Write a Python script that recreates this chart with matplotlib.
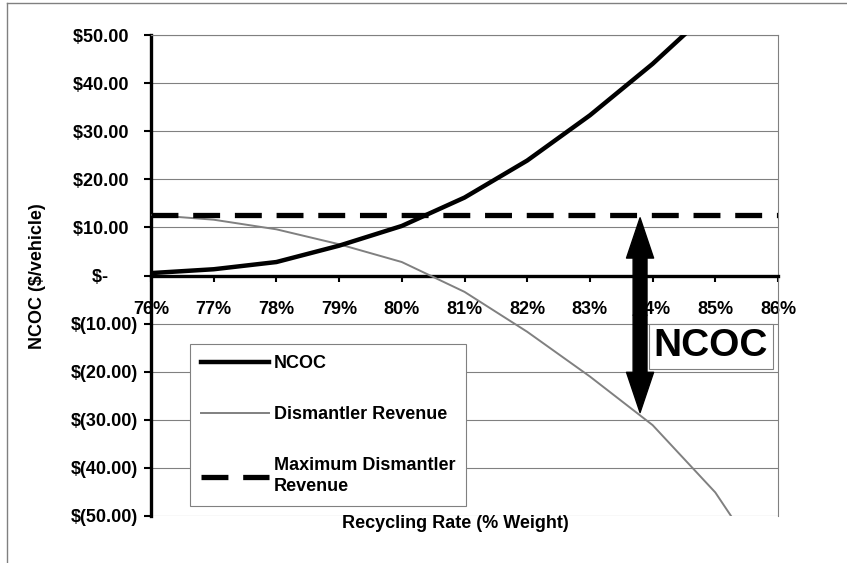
import numpy as np
import matplotlib
matplotlib.use('Agg')
import matplotlib.pyplot as plt
from matplotlib.lines import Line2D

plt.rcParams['font.family'] = ['Liberation Sans', 'DejaVu Sans']
plt.rcParams['font.weight'] = 'bold'
plt.rcParams['font.size'] = 13

#Data
rate = [76, 77, 78, 79, 80, 81, 82, 83, 84, 85, 86] #% weight
ncoc = [0.5, 1.3, 2.8, 6.2, 10.3, 16.2, 23.9, 33.3, 44.0, 56.0, 69.0] #$/vehicle
revenue = [12.6, 11.6, 9.6, 6.5, 2.8, -3.4, -11.7, -21.0, -31.1, -45.1, -64.6] #$/vehicle
max_revenue = 12.6 #$/vehicle
arrow_x = 83.8
arrow_top = 12.0
arrow_bottom = -28.5
yticks = [50, 40, 30, 20, 10, 0, -10, -20, -30, -40, -50]
ytick_labels = ['$50.00  ', '$40.00  ', '$30.00  ', '$20.00  ', '$10.00  ', '$-      ',
                '$(10.00)', '$(20.00)', '$(30.00)', '$(40.00)', '$(50.00)']

fig = plt.figure(figsize=(8.47, 5.63), dpi=100)
ax = fig.add_axes([151/847, 1-516/563, 627/847, 481/563])

#Lines
ax.plot(rate, ncoc, color='black', lw=3.2, label='NCOC', zorder=4)
ax.plot(rate, revenue, color='#808080', lw=1.4, label='Dismantler Revenue', zorder=3)
ax.axhline(max_revenue, color='black', lw=3.8, dashes=(5.1, 2.8),
           label='Maximum Dismantler\nRevenue', zorder=3)

ax.set_xlim(76, 86)
ax.set_ylim(-50, 50)

#Axes styling
ax.spines['bottom'].set_position(('data', 0))
ax.spines['bottom'].set_linewidth(2.4)
ax.spines['left'].set_linewidth(2.4)
for s in ['top', 'right']:
    ax.spines[s].set_color('#808080')
    ax.spines[s].set_linewidth(0.8)
ax.set_axisbelow(True)
ax.yaxis.grid(True, color='#808080', lw=0.8)

ax.set_xticks(rate)
ax.set_xticklabels(['%d%%' % r for r in rate])
ax.set_yticks(yticks)
ax.set_yticklabels(ytick_labels)
ax.tick_params(axis='x', direction='out', length=4.5, width=1.5, pad=14, labelsize=13)
ax.tick_params(axis='y', direction='out', length=5, width=1.5, pad=4, labelsize=13)

#Double headed arrow
mid = (arrow_top + arrow_bottom) / 2
for end in [arrow_top, arrow_bottom]:
    ax.annotate('', xy=(arrow_x, end), xytext=(arrow_x, mid),
                arrowprops=dict(arrowstyle='simple,head_length=2.9,head_width=1.95,tail_width=1.0',
                                mutation_scale=10, color='black', shrinkA=0, shrinkB=0),
                zorder=5)

ax.text(84.93, -14.7, 'NCOC', fontsize=28, ha='center', va='center', zorder=6,
        bbox=dict(boxstyle='square,pad=0.12', fc='white', ec='#808080', lw=0.8))

#Legend
leg = ax.legend(loc='upper left', bbox_to_anchor=(0.0622, 0.3576), borderaxespad=0,
                fontsize=13, handlelength=3.8, handletextpad=0.25, labelspacing=1.9,
                borderpad=0.6, fancybox=False, framealpha=1, edgecolor='#808080')
leg.get_frame().set_linewidth(0.8)
leg.get_texts()[2].set_linespacing(1.3)
leg.set_zorder(7)

fig.text(37/847, 1-276/563, 'NCOC ($/vehicle)', rotation=90, ha='center', va='center', fontsize=13)
fig.text(455/847, 1-523/563, 'Recycling Rate (% Weight)', ha='center', va='center', fontsize=13)

#Chart border (left and top edges visible)
fig.add_artist(Line2D([7/847, 7/847], [0, 1-3/563], color='#808080', lw=1))
fig.add_artist(Line2D([7/847, 1], [1-3/563, 1-3/563], color='#808080', lw=1))

fig.savefig('out.png', dpi=100)
